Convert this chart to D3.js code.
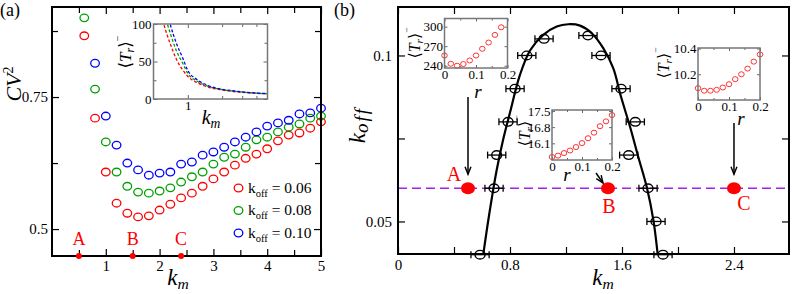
<!DOCTYPE html>
<html>
<head>
<meta charset="utf-8">
<script src="https://cdn.jsdelivr.net/npm/d3@7"></script>
<style>
  body { margin: 0; background: #fff; }
  svg { display: block; }
  svg text { font-family: "Liberation Serif", "DejaVu Serif", "Times New Roman", Times, serif; }
</style>
</head>
<body>
<div id="chart"></div>
<script>
// ---- panel (a): CV^2 against k_m for three k_off values
const kmA = [0.6, 0.8, 1.0, 1.2, 1.4, 1.6, 1.8, 2.0, 2.2, 2.4, 2.6, 2.8, 3.0, 3.2, 3.4, 3.6, 3.8, 4.0, 4.2, 4.4, 4.6, 4.8, 5.0];
const cv006 = [0.866, 0.710, 0.608, 0.549, 0.530, 0.523, 0.525, 0.536, 0.547, 0.559, 0.568, 0.581, 0.595, 0.608, 0.621, 0.634, 0.642, 0.652, 0.667, 0.678, 0.682, 0.691, 0.703];
const cv008 = [0.900, 0.765, 0.665, 0.608, 0.581, 0.570, 0.568, 0.572, 0.578, 0.589, 0.599, 0.608, 0.623, 0.636, 0.642, 0.655, 0.669, 0.674, 0.684, 0.693, 0.699, 0.710, 0.714];
const cv010 = [null, 0.814, 0.714, 0.659, 0.625, 0.612, 0.602, 0.606, 0.608, 0.623, 0.627, 0.640, 0.646, 0.655, 0.665, 0.674, 0.684, 0.695, 0.701, 0.706, 0.718, 0.720, 0.729];
const koffNames = ["0.06", "0.08", "0.10"];
const colors = ["#ff0000", "#00a000", "#0000ff"];
const pointKm = [0.5, 1.5, 2.4];
const pointNames = ["A", "B", "C"];

// inset of (a): <T_r> against k_m (log axis)
const kmInset = [0.6, 0.65, 0.7, 0.8, 0.9, 1.0, 1.2, 1.5, 2.0, 2.5, 3.0, 4.0, 5.0];
const tr006 = [105, 88, 74, 52, 39, 30, 22, 16, 12, 10, 8.8, 7.5, 6.8];
const tr008 = [125, 104, 88, 63, 48, 34, 24, 17, 12.5, 10.5, 9.2, 7.8, 7];
const tr010 = [145, 120, 100, 73, 55, 38, 26, 18, 13, 11, 9.5, 8, 7.2];

// ---- panel (b): phase boundary in (k_m, k_off)
const kmB = [0.586, 0.686, 0.705, 0.786, 0.836, 0.92, 1.043, 1.357, 1.45, 1.593, 1.695, 1.648, 1.786, 1.843, 1.893];
const koffB = [0.04, 0.06, 0.07, 0.08, 0.09, 0.1, 0.105, 0.106, 0.1, 0.09, 0.08, 0.07, 0.06, 0.05, 0.04];
const kmErr = 0.065;
const kmFit = [0.609, 0.640, 0.670, 0.705, 0.750, 0.800, 0.870, 0.943, 1.038, 1.134, 1.216, 1.300, 1.384, 1.466, 1.538, 1.590, 1.657, 1.716, 1.776, 1.824, 1.855];
const koffFit = [0.0401, 0.0490, 0.0570, 0.0655, 0.0745, 0.0828, 0.0940, 0.1015, 0.1062, 0.1087, 0.1094, 0.1090, 0.1067, 0.1022, 0.0961, 0.0880, 0.0786, 0.0695, 0.0605, 0.0505, 0.0401];
const koffCut = 0.06;

// insets of (b): <T_r> against r at A, B, C
const rA = [0, 0.02, 0.04, 0.06, 0.08, 0.1, 0.12, 0.14, 0.16, 0.18];
const trA = [255.7, 243, 240, 242.6, 248.1, 255.7, 266, 275.6, 287.3, 299];
const rB = [0, 0.02, 0.04, 0.06, 0.08, 0.1, 0.12, 0.14, 0.16, 0.18, 0.2];
const trB = [15.51, 15.57, 15.68, 15.79, 15.94, 16.11, 16.32, 16.56, 16.84, 17.05, 17.32];
const rC = [0, 0.02, 0.04, 0.06, 0.08, 0.1, 0.12, 0.14, 0.16, 0.18, 0.2];
const trC = [10.092, 10.072, 10.072, 10.079, 10.097, 10.123, 10.162, 10.2, 10.244, 10.298, 10.354];

const W = 793, H = 294;
const svg = d3.select("#chart").append("svg").attr("width", W).attr("height", H);
svg.append("rect").attr("width", W).attr("height", H).attr("fill", "#fff");

function frame(g, x, y, color, w) {
    const [x0, x1] = x.range(), [y0, y1] = y.range();
    g.append("rect")
        .attr("x", x0).attr("y", y1)
        .attr("width", x1 - x0).attr("height", y0 - y1)
        .attr("fill", "none").attr("stroke", color).attr("stroke-width", w);
}

// inward ticks on all four sides, labels only bottom/left
function ticks(g, x, y, o) {
    const [x0, x1] = x.range(), [y0, y1] = y.range();
    const put = (axis, tx, ty, vals, size, fmt, pad) => {
        if (!vals) return;
        const a = g.append("g").attr("transform", `translate(${tx},${ty})`)
            .call(axis.tickValues(vals).tickSize(-size).tickPadding(pad || 3).tickFormat(fmt));
        a.select(".domain").remove();
        a.attr("font-family", null).attr("font-size", o.font);
        a.selectAll("line").attr("stroke", o.color).attr("stroke-width", o.tw || 1.2);
    };
    const none = () => "";
    put(d3.axisBottom(x), 0, y0, o.xMajor, o.len, o.xFmt, o.xPad);
    put(d3.axisTop(x), 0, y1, o.xMajor, o.len, none);
    put(d3.axisLeft(y), x0, 0, o.yMajor, o.len, o.yFmt, o.yPad);
    put(d3.axisRight(y), x1, 0, o.yMajor, o.len, none);
    put(d3.axisBottom(x), 0, y0, o.xMinor, o.minor, none);
    put(d3.axisTop(x), 0, y1, o.xMinor, o.minor, none);
    put(d3.axisLeft(y), x0, 0, o.yMinor, o.minor, none);
    put(d3.axisRight(y), x1, 0, o.yMinor, o.minor, none);
}

function trLabel(g, x, y, size) {
    const t = g.append("text")
        .attr("transform", `translate(${x},${y}) rotate(-90)`)
        .attr("text-anchor", "middle").attr("font-size", size);
    t.append("tspan").text("⟨");
    t.append("tspan").attr("font-style", "italic").text("T");
    t.append("tspan").attr("font-style", "italic").attr("font-size", size * 0.7).attr("dy", size * 0.2).text("r");
    t.append("tspan").attr("dy", -size * 0.2).text("⟩");
    t.append("tspan").attr("font-size", size * 0.6).attr("dy", -size * 0.6).text("−");
}

function kmLabel(g, x, y, size) {
    const t = g.append("text").attr("x", x).attr("y", y)
        .attr("text-anchor", "middle").attr("font-size", size).attr("font-style", "italic");
    t.append("tspan").text("k");
    t.append("tspan").attr("font-size", size * 0.68).attr("dy", size * 0.18).text("m");
}

function arrow(g, x1, y1, x2, y2) {
    const a = Math.atan2(y2 - y1, x2 - x1), L = 8, s = 0.38;
    g.append("line").attr("x1", x1).attr("y1", y1).attr("x2", x2).attr("y2", y2)
        .attr("stroke", "#000").attr("stroke-width", 1.5);
    g.append("path")
        .attr("d", `M${x2 - L * Math.cos(a - s)},${y2 - L * Math.sin(a - s)}L${x2},${y2}L${x2 - L * Math.cos(a + s)},${y2 - L * Math.sin(a + s)}`)
        .attr("fill", "none").attr("stroke", "#000").attr("stroke-width", 1.4);
}

// ================= panel (a)
const ga = svg.append("g");
const xA = d3.scaleLinear().domain([0, 5]).range([52, 321]);
const yA = d3.scaleLinear().domain([0.449, 0.9205]).range([256, 7]);

ticks(ga, xA, yA, {
    xMajor: [1, 2, 3, 4, 5], xMinor: [0.5, 1.5, 2.5, 3.5, 4.5],
    yMajor: [0.5, 0.75], yMinor: [0.625, 0.875],
    xFmt: d => String(d), yFmt: d => String(d),
    len: 7, minor: 6, font: 15, color: "#000", xPad: 4, yPad: 4
});

[cv006, cv008, cv010].forEach((vals, i) => {
    ga.append("g").selectAll("ellipse")
        .data(kmA.map((k, j) => [k, vals[j]]).filter(d => d[1] != null))
        .join("ellipse")
        .attr("cx", d => xA(d[0])).attr("cy", d => yA(d[1]))
        .attr("rx", 4.3).attr("ry", 3.8)
        .attr("fill", "none").attr("stroke", colors[i]).attr("stroke-width", 1.3);
});

frame(ga, xA, yA, "#000", 2);

// A, B, C marks on the k_m axis
ga.selectAll(".pt").data(pointKm).join("circle")
    .attr("cx", d => xA(d)).attr("cy", yA.range()[0]).attr("r", 3).attr("fill", "#ff0000");
ga.selectAll(".ptl").data(pointNames).join("text")
    .attr("x", (d, i) => xA(pointKm[i])).attr("y", 245)
    .attr("text-anchor", "middle").attr("font-size", 18).attr("fill", "#ff0000")
    .text(d => d);

// legend
koffNames.forEach((name, i) => {
    const ly = 188 + i * 22.5;
    ga.append("ellipse").attr("cx", 238.5).attr("cy", ly).attr("rx", 4.3).attr("ry", 3.8)
        .attr("fill", "none").attr("stroke", colors[i]).attr("stroke-width", 1.3);
    const t = ga.append("text").attr("x", 248).attr("y", ly + 4.5).attr("font-size", 15.5);
    t.append("tspan").text("k");
    t.append("tspan").attr("font-size", 10.5).attr("dy", 4).text("off");
    t.append("tspan").attr("dy", -4).text(" = " + name);
});

// axis labels
const cvText = ga.append("text").attr("transform", "translate(21,84) rotate(-90)")
    .attr("text-anchor", "middle").attr("font-size", 22);
cvText.append("tspan").attr("font-style", "italic").text("CV");
cvText.append("tspan").attr("font-size", 14).attr("dy", -8).text("2");
kmLabel(ga, 178, 285, 23);
ga.append("text").attr("x", 0).attr("y", 16).attr("font-size", 18).text("(a)");

// inset of (a)
const xI = d3.scaleLog().domain([0.5, 5]).range([153.5, 267.5]);
const yI = d3.scaleLinear().domain([0, 100]).range([99, 24]);
ga.append("clipPath").attr("id", "clipI").append("rect")
    .attr("x", 153.5).attr("y", 24).attr("width", 114).attr("height", 75);
ga.append("rect").attr("x", 153.5).attr("y", 24).attr("width", 114).attr("height", 75).attr("fill", "#fff");
const lineI = d3.line().x(d => xI(d[0])).y(d => yI(d[1])).curve(d3.curveMonotoneX);
[tr006, tr008, tr010].forEach((vals, i) => {
    ga.append("path")
        .attr("d", lineI(kmInset.map((k, j) => [k, vals[j]])))
        .attr("clip-path", "url(#clipI)")
        .attr("fill", "none").attr("stroke", colors[i]).attr("stroke-width", 1.3)
        .attr("stroke-dasharray", "3,2");
});
ticks(ga, xI, yI, {
    xMajor: [1], xMinor: [2, 3, 4],
    yMajor: [0, 50, 100], yMinor: [25, 75],
    xFmt: d => String(d), yFmt: d => String(d),
    len: 4, minor: 3, font: 13, color: "#666", tw: 1, xPad: 2, yPad: 2
});
frame(ga, xI, yI, "#777", 1.5);
trLabel(ga, 131, 52, 17);
kmLabel(ga, 211, 124, 20);

// ================= panel (b)
const gb = svg.append("g");
const xB = d3.scaleLinear().domain([0, 2.793]).range([398, 789]);
const yB = d3.scaleLinear().domain([0.0402, 0.1146]).range([254, 7]);

ticks(gb, xB, yB, {
    xMajor: [0, 0.8, 1.6, 2.4], xMinor: [0.4, 1.2, 2.0],
    yMajor: [0.05, 0.1], yMinor: [0.075],
    xFmt: d => String(d), yFmt: d => String(d),
    len: 7, minor: 7, font: 15, color: "#000", xPad: 5, yPad: 6
});

gb.append("line")
    .attr("x1", xB.range()[0]).attr("x2", xB.range()[1])
    .attr("y1", yB(koffCut)).attr("y2", yB(koffCut))
    .attr("stroke", "#a020f0").attr("stroke-width", 1.5).attr("stroke-dasharray", "9,5");

gb.append("path")
    .attr("d", d3.line().x(d => xB(d[0])).y(d => yB(d[1])).curve(d3.curveCatmullRom)(kmFit.map((k, i) => [k, koffFit[i]])))
    .attr("fill", "none").attr("stroke", "#000").attr("stroke-width", 2.2);

const pts = kmB.map((k, i) => [k, koffB[i]]);
const eb = gb.append("g").attr("stroke", "#000").attr("stroke-width", 1.3);
pts.forEach(d => {
    const y = yB(d[1]), xl = xB(d[0] - kmErr), xr = xB(d[0] + kmErr);
    eb.append("line").attr("x1", xl).attr("x2", xr).attr("y1", y).attr("y2", y);
    eb.append("line").attr("x1", xl).attr("x2", xl).attr("y1", y - 3.5).attr("y2", y + 3.5);
    eb.append("line").attr("x1", xr).attr("x2", xr).attr("y1", y - 3.5).attr("y2", y + 3.5);
});
gb.append("g").selectAll("ellipse").data(pts).join("ellipse")
    .attr("cx", d => xB(d[0])).attr("cy", d => yB(d[1]))
    .attr("rx", 5).attr("ry", 4.3)
    .attr("fill", "none").attr("stroke", "#000").attr("stroke-width", 1.4);

// points A, B, C on the dashed cut
gb.selectAll(".big").data(pointKm).join("ellipse")
    .attr("cx", d => xB(d)).attr("cy", yB(koffCut)).attr("rx", 7).attr("ry", 6)
    .attr("fill", "#ff0000");
const labPos = [[-14, -7], [1, 25], [10, 22]];
gb.selectAll(".bl").data(pointNames).join("text")
    .attr("x", (d, i) => xB(pointKm[i]) + labPos[i][0])
    .attr("y", (d, i) => yB(koffCut) + labPos[i][1])
    .attr("text-anchor", "middle").attr("font-size", 20).attr("fill", "#ff0000")
    .text(d => d);

frame(gb, xB, yB, "#000", 2);

const kt = gb.append("text").attr("transform", "translate(365,125) rotate(-90)")
    .attr("text-anchor", "middle").attr("font-size", 23).attr("font-style", "italic");
kt.append("tspan").text("k");
kt.append("tspan").attr("font-size", 19).attr("dy", 3).attr("letter-spacing", 2).text("off");
kmLabel(gb, 603, 285, 23);
gb.append("text").attr("x", 334).attr("y", 16).attr("font-size", 18).text("(b)");

// arrows from insets to A, B, C
arrow(gb, xB(pointKm[0]), 97, xB(pointKm[0]), yB(koffCut) - 14);
arrow(gb, 596, 173, 603, 183);
arrow(gb, xB(pointKm[2]), 123, xB(pointKm[2]), yB(koffCut) - 14);

function rInset(g, rs, vals, box, dom, yTicks, lab) {
    const x = d3.scaleLinear().domain([0, 0.2]).range([box[0], box[1]]);
    const y = d3.scaleLinear().domain(dom).range([box[3], box[2]]);
    g.append("rect").attr("x", box[0]).attr("y", box[2])
        .attr("width", box[1] - box[0]).attr("height", box[3] - box[2]).attr("fill", "#fff");
    ticks(g, x, y, {
        xMajor: [0, 0.1, 0.2], xMinor: [0.05, 0.15],
        yMajor: yTicks,
        xFmt: d => String(d), yFmt: d => String(d),
        len: 3, minor: 2, font: 13, color: "#666", tw: 1, xPad: 2, yPad: 1.5
    });
    g.append("g").selectAll("ellipse").data(rs.map((r, i) => [r, vals[i]])).join("ellipse")
        .attr("cx", d => x(d[0])).attr("cy", d => y(d[1]))
        .attr("rx", 2.8).attr("ry", 2.5)
        .attr("fill", "none").attr("stroke", "#ff3333").attr("stroke-width", 1);
    frame(g, x, y, "#777", 1.5);
    trLabel(g, lab[0], lab[1], 16);
    g.append("text").attr("x", lab[2]).attr("y", lab[3])
        .attr("text-anchor", "middle").attr("font-size", 19).attr("font-style", "italic").text("r");
}

rInset(gb, rA, trA, [444.5, 507.5, 18.5, 68], [236.5, 312.5], [240, 270, 300], [420, 43, 478, 98]);
rInset(gb, rB, trB, [552, 612, 110, 160], [15.38, 17.54], [16.1, 16.8, 17.5], [530, 131, 567, 181]);
rInset(gb, rC, trC, [698, 760, 48, 100], [10.0, 10.404], [10.2, 10.4], [669, 63, 741, 125]);
</script>
</body>
</html>
